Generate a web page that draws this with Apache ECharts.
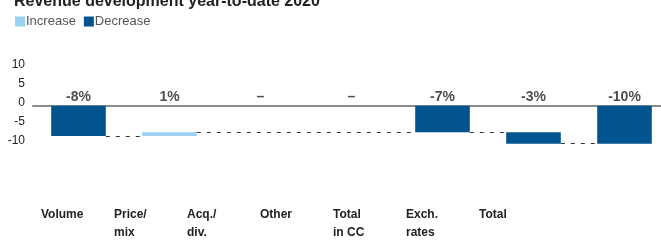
<!DOCTYPE html>
<html>
<head>
<meta charset="utf-8">
<script src="https://cdn.jsdelivr.net/npm/echarts@6/dist/echarts.min.js"></script>
<style>
  html, body { margin: 0; padding: 0; background: #fff; }
  #chart { width: 661px; height: 248px; }
</style>
</head>
<body>
<div id="chart"></div>
<script>
// waterfall data
const categories = ['Volume', 'Price/\nmix', 'Acq./\ndiv.', 'Other', 'Total\nin CC', 'Exch.\nrates', 'Total'];
const changes = [-8, 1, 0, 0, -7, -3, -10];
const isTotal = [false, false, false, false, true, false, true];
const valueLabels = ['-8%', '1%', '–', '–', '-7%', '-3%', '-10%'];
const yTicks = [-10, -5, 0, 5, 10];

const FONT = '"Liberation Sans", Arial, sans-serif';
const DARK = '#02548f';
const LIGHT = '#9dd1f1';
const BAR_RATIO = 0.6;

// build stacked pieces: transparent base + visible step
let base = [], inc = [], dec = [], spans = [];
let run = 0;
changes.forEach((c, i) => {
    let start = isTotal[i] ? 0 : run;
    let end = isTotal[i] ? c : run + c;
    let top = Math.min(0, Math.max(start, end));
    let bottom = Math.min(start, end);
    base.push(top);
    if (c > 0) { inc.push(bottom - top); dec.push('-'); }
    else { dec.push(bottom - top); inc.push('-'); }
    spans.push({ drawn: c !== 0, end: end });
    run = end;
});

// dashed connectors between drawn bars at the running level
let connectors = [];
let last = null;
spans.forEach((s, i) => {
    if (!s.drawn) return;
    if (last !== null) {
        connectors.push([
            { coord: [last + BAR_RATIO / 2, spans[last].end] },
            { coord: [i - BAR_RATIO / 2, spans[last].end] }
        ]);
    }
    last = i;
});

let chart = echarts.init(document.getElementById('chart'));
chart.setOption({
    animation: false,
    textStyle: { fontFamily: FONT },
    title: {
        text: 'Revenue development year-to-date 2020',
        left: 9,
        top: -11,
        textStyle: { fontSize: 16, fontWeight: 'bold', color: '#222', fontFamily: FONT }
    },
    legend: {
        data: ['Increase', 'Decrease'],
        left: 15,
        top: 15,
        padding: 0,
        icon: 'rect',
        itemWidth: 10,
        itemHeight: 10,
        itemGap: 8,
        textStyle: { fontSize: 13, color: '#555', fontFamily: FONT, padding: [0, 0, 0, -4] }
    },
    grid: [
        { left: 33, width: 637, top: 67.7, bottom: 104.3, outerBoundsMode: 'none' },
        { left: 4.5, width: 511, top: 200, height: 1, outerBoundsMode: 'none' }
    ],
    xAxis: [
        {
            type: 'category', gridIndex: 0, data: categories,
            axisLine: { lineStyle: { color: '#8c8c8c', width: 2 } },
            axisTick: { show: false }, axisLabel: { show: false }
        },
        {
            type: 'value', gridIndex: 0, min: -0.5, max: categories.length - 0.5, show: false
        },
        {
            type: 'category', gridIndex: 1, data: categories, position: 'bottom',
            axisLine: { show: false }, axisTick: { show: false },
            axisLabel: {
                interval: 0, align: 'left', margin: 5, fontSize: 12, fontWeight: 'bold',
                lineHeight: 18, color: '#222', fontFamily: FONT
            }
        }
    ],
    yAxis: [
        {
            type: 'value', gridIndex: 0, min: yTicks[0], max: yTicks[yTicks.length - 1], interval: 5,
            axisLine: { show: false }, axisTick: { show: false }, splitLine: { show: false },
            axisLabel: {
                fontSize: 12, color: '#222', margin: 8, verticalAlign: 'bottom', lineHeight: 6.5,
                fontFamily: FONT
            }
        },
        { type: 'value', gridIndex: 1, show: false }
    ],
    series: [
        {
            name: 'base', type: 'bar', stack: 'w', xAxisIndex: 0, yAxisIndex: 0,
            barWidth: (BAR_RATIO * 100) + '%', data: base,
            itemStyle: { color: 'transparent' }, silent: true
        },
        {
            name: 'Increase', type: 'bar', stack: 'w', xAxisIndex: 0, yAxisIndex: 0,
            data: inc, itemStyle: { color: LIGHT }
        },
        {
            name: 'Decrease', type: 'bar', stack: 'w', xAxisIndex: 0, yAxisIndex: 0,
            data: dec, itemStyle: { color: DARK }
        },
        {
            name: 'labels', type: 'scatter', xAxisIndex: 0, yAxisIndex: 0, symbolSize: 0,
            data: categories.map((c, i) => [i, 0]),
            label: {
                show: true, position: 'top', distance: 2, fontSize: 14, fontWeight: 'bold',
                color: '#222', fontFamily: FONT,
                formatter: p => valueLabels[p.dataIndex]
            }
        },
        {
            name: 'connectors', type: 'line', xAxisIndex: 1, yAxisIndex: 0, data: [],
            markLine: {
                silent: true, symbol: 'none', label: { show: false },
                lineStyle: { color: '#333', type: [4, 6], width: 1 },
                data: connectors
            }
        }
    ]
});
</script>
</body>
</html>
